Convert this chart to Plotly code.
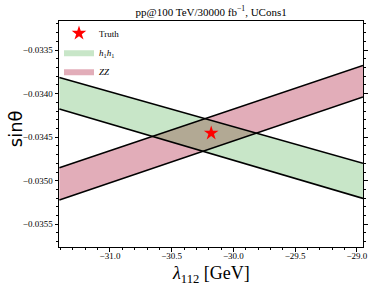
import plotly.graph_objects as go

# Data
x_ends = [-31.41, -28.95]
h1h1_upper = [-0.033815, -0.034800]
h1h1_lower = [-0.034176, -0.035203]
zz_upper = [-0.034850, -0.033676]
zz_lower = [-0.035222, -0.034038]
truth_x = [-30.18]
truth_y = [-0.034454]

x_range = [-31.413, -28.95]
y_range = [-0.035761, -0.033166]
x_ticks = [-31.0, -30.5, -30.0, -29.5, -29.0]
y_ticks = [-0.0335, -0.0340, -0.0345, -0.0350, -0.0355]

SERIF = "Liberation Serif"
fig = go.Figure()

def band(lower, upper, fillcolor, name, rank):
    fig.add_trace(go.Scatter(
        x=x_ends + x_ends[::-1], y=lower + upper[::-1],
        fill="toself", fillcolor=fillcolor, mode="lines",
        line=dict(color=fillcolor, width=0), name=name,
        legendrank=rank, hoverinfo="skip"))

band(zz_lower, zz_upper, "rgba(180,40,70,0.38)", "<i>ZZ</i>", 3)
band(h1h1_lower, h1h1_upper, "rgba(44,160,44,0.26)",
     "<i>h</i><sub>1</sub><i>h</i><sub>1</sub>", 2)

for ys in (zz_lower, zz_upper, h1h1_lower, h1h1_upper):
    fig.add_trace(go.Scatter(x=x_ends, y=ys, mode="lines",
                             line=dict(color="black", width=1.6),
                             showlegend=False, hoverinfo="skip"))

fig.add_trace(go.Scatter(x=truth_x, y=truth_y, mode="markers",
                         marker=dict(symbol="star", size=11, color="red",
                                     line=dict(width=0)),
                         name="Truth", legendrank=1))

fig.update_layout(
    width=373, height=287,
    margin=dict(l=59, r=10, t=21, b=40),
    plot_bgcolor="white", paper_bgcolor="white",
    font=dict(family=SERIF, size=9, color="black"),
    title=dict(text="pp@100 TeV/30000 fb<sup>−1</sup>, UCons1",
               x=0.566, xanchor="center", y=0.958, yanchor="middle",
               font=dict(family=SERIF, size=11, color="black")),
    legend=dict(x=0.0, y=1.01, xanchor="left", yanchor="top",
                bgcolor="rgba(255,255,255,0)", font=dict(family=SERIF, size=9),
                tracegroupgap=0, itemwidth=30),
    showlegend=True,
    annotations=[
        dict(text="<i>λ</i><sub>112</sub> [GeV]", xref="paper", yref="paper",
             x=0.5, y=-0.062, xanchor="center", yanchor="top", showarrow=False,
             font=dict(family=SERIF, size=18, color="black")),
        dict(text="sinθ", xref="paper", yref="paper", textangle=-90,
             x=-0.142, y=0.525, xanchor="center", yanchor="middle", showarrow=False,
             font=dict(family="DejaVu Sans", size=18, color="black")),
    ],
)
fig.update_xaxes(
    range=x_range, tickvals=x_ticks, ticktext=[f"{v:.1f}".replace("-", "−") for v in x_ticks],
    ticks="outside", ticklen=3.5, tickwidth=1, tickcolor="black",
    minor=dict(dtick=0.1, tick0=-31.0, ticks="outside", ticklen=2, tickcolor="black"),
    showline=True, linecolor="black", linewidth=1, mirror=True,
    showgrid=False, zeroline=False, automargin=False, ticklabelstandoff=-3,
    tickfont=dict(family=SERIF, size=9),
)
fig.update_yaxes(
    range=y_range, tickvals=y_ticks, ticktext=[f"{v:.4f}".replace("-", "−") for v in y_ticks],
    ticks="outside", ticklen=3.5, tickwidth=1, tickcolor="black",
    minor=dict(dtick=0.0001, tick0=-0.0355, ticks="outside", ticklen=2, tickcolor="black"),
    showline=True, linecolor="black", linewidth=1, mirror="ticks",
    showgrid=False, zeroline=False, automargin=False,
    tickfont=dict(family=SERIF, size=9),
)

fig.write_html("out.html", config={"displayModeBar": False},
               post_script="document.body.style.margin='0px';")
